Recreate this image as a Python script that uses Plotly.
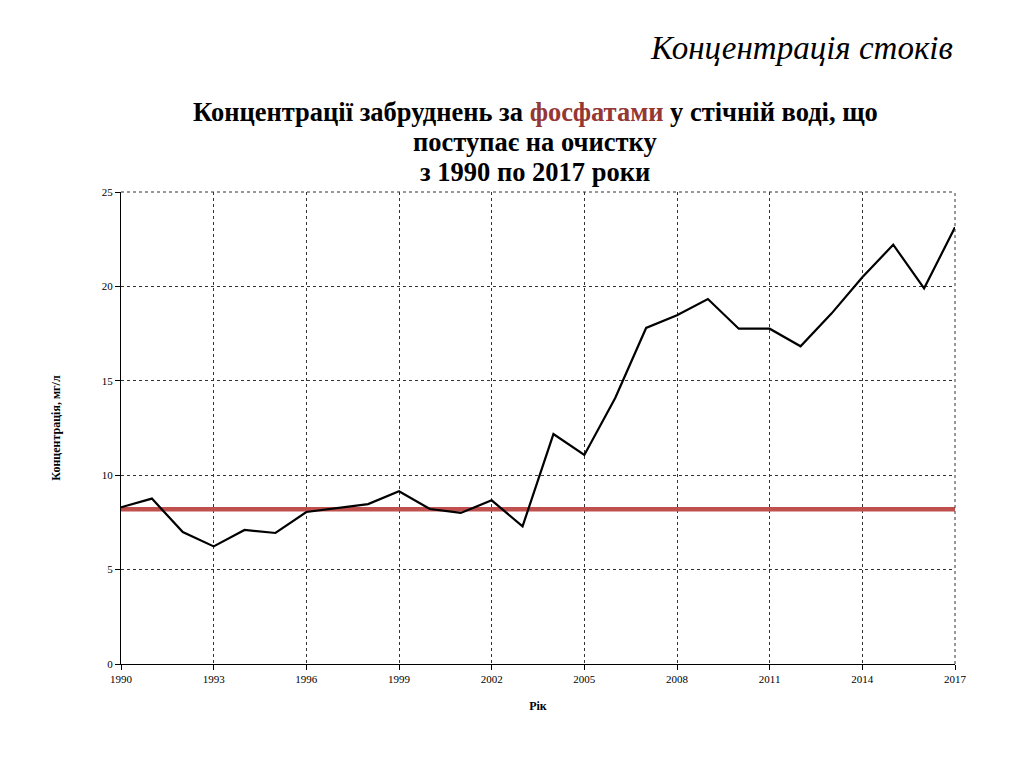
import plotly.graph_objects as go

years = list(range(1990, 2018))
concentration = [8.30, 8.76, 6.99, 6.23, 7.10, 6.94, 8.05, 8.26, 8.47, 9.15,
                 8.21, 8.00, 8.67, 7.29, 12.18, 11.07, 14.09, 17.80, 18.47, 19.33,
                 17.76, 17.76, 16.83, 18.56, 20.48, 22.21, 19.90, 23.13]
norm_value = 8.2
norm_line = [norm_value] * len(years)

title_lines = [
    "<b>Концентрації забруднень за <span style='color:#953735'>фосфатами</span> у стічній воді, що</b>",
    "<b>поступає на очистку</b>",
    "<b>з 1990 по 2017 роки</b>",
]
title_y_px = [112, 142, 172]

fig = go.Figure()
fig.add_trace(go.Scatter(x=years, y=norm_line, mode="lines",
                         line=dict(color="#C0504D", width=4.5), showlegend=False, hoverinfo="skip"))
fig.add_trace(go.Scatter(x=years, y=concentration, mode="lines",
                         line=dict(color="black", width=2.2), showlegend=False))

serif = "Liberation Serif, Times New Roman, serif"
L, R, T, B = 121, 69, 192, 93
W, H = 1024, 757
plot_w = W - L - R
plot_h = H - T - B

def px_x(x):
    return (x - L) / plot_w

def px_y(y):
    return (H - B - y) / plot_h

annotations = [
    dict(text="<i>Концентрація стоків</i>", x=px_x(955), y=px_y(48), xref="paper", yref="paper",
         xanchor="right", yanchor="middle", showarrow=False, font=dict(size=33, family=serif)),
]
for txt, yp in zip(title_lines, title_y_px):
    annotations.append(dict(text=txt, x=px_x(535), y=px_y(yp), xref="paper", yref="paper",
                            xanchor="center", yanchor="middle", showarrow=False,
                            font=dict(size=26.5, family=serif)))

fig.update_layout(
    width=W, height=H,
    margin=dict(l=L, r=R, t=T, b=B),
    paper_bgcolor="white", plot_bgcolor="white",
    font=dict(family=serif, color="black"),
    xaxis=dict(range=[1990, 2017], tick0=1990, dtick=3, showgrid=True,
               gridcolor="#333333", griddash="dot", gridwidth=1,
               showline=True, linecolor="black", linewidth=1,
               ticks="outside", ticklen=5, tickcolor="black",
               tickfont=dict(size=11, family=serif),
               title=dict(text="<b>Рік</b>", font=dict(size=12, family=serif), standoff=17),
               zeroline=False),
    yaxis=dict(range=[0, 25], dtick=5, showgrid=True,
               gridcolor="#333333", griddash="dot", gridwidth=1,
               showline=True, linecolor="black", linewidth=1,
               ticks="outside", ticklen=5, tickcolor="black",
               tickfont=dict(size=11, family=serif),
               title=dict(text="<b>Концентрація, мг/л</b>", font=dict(size=12, family=serif), standoff=38),
               zeroline=False),
    annotations=annotations,
    shapes=[
        dict(type="line", xref="paper", yref="paper", x0=0, x1=1, y0=1, y1=1,
             line=dict(color="#333333", width=1, dash="dot")),
        dict(type="line", xref="paper", yref="paper", x0=1, x1=1, y0=0, y1=1,
             line=dict(color="#333333", width=1, dash="dot")),
    ],
)

fig.write_html("out.html")
